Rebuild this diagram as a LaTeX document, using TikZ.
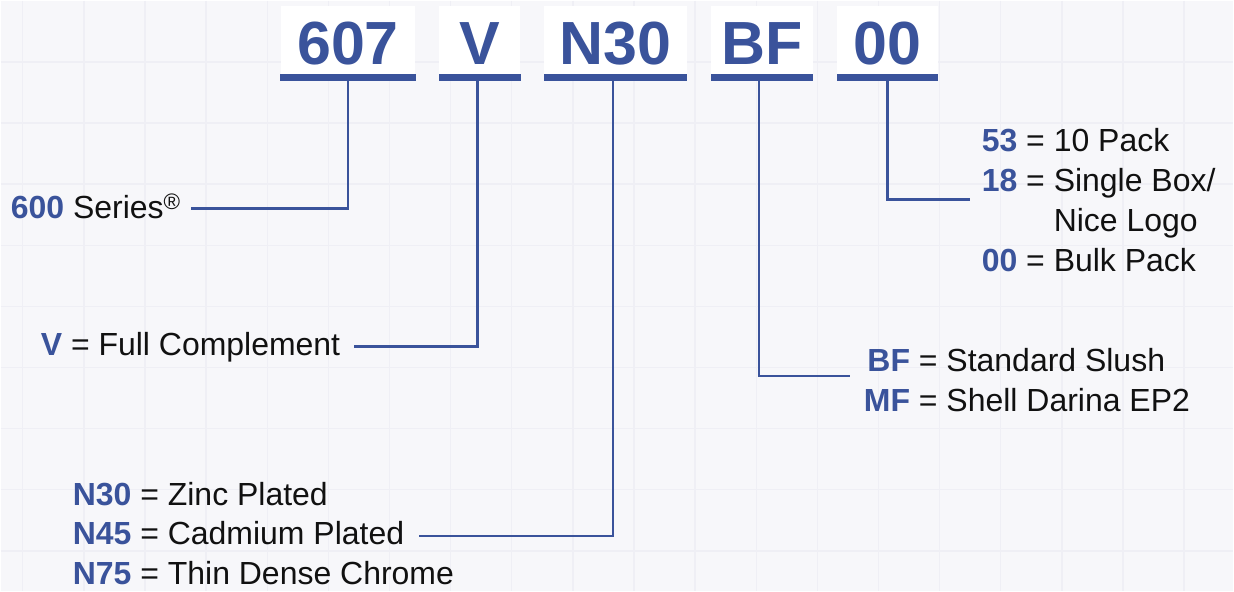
\documentclass[tikz,border=0pt]{standalone}
\usepackage{fontspec}
\setmainfont{Liberation Sans}
\definecolor{brand}{HTML}{3A539B}
\definecolor{bg}{HTML}{F7F7FA}
\definecolor{gridc}{HTML}{EFEFF5}
\definecolor{ink}{HTML}{111111}
\newcommand{\cd}[1]{\textcolor{brand}{\bfseries #1}}
\begin{document}
\begin{tikzpicture}[x=1pt,y=-1pt,
  hdr/.style={fill=white, anchor=north west, minimum height=75pt, inner sep=0pt,
    font=\fontsize{61}{61}\selectfont\bfseries, text=brand, text depth=0pt},
  bar/.style={fill=brand},
  conn/.style={draw=brand, line width=2.4pt},
  lbl/.style={font=\fontsize{32}{40}\selectfont, text=ink, inner sep=0pt, anchor=base west}
]
% background and grid
\fill[bg] (0,0) rectangle (1234,591);
\foreach \i in {0,...,19} \draw[gridc, line width=1.4pt] ({22+61.2*\i},0) -- ({22+61.2*\i},591);
\foreach \j in {1,...,9} \draw[gridc, line width=1.4pt] (0,{61.2*\j}) -- (1234,{61.2*\j});
\useasboundingbox (0,0) rectangle (1234,591);

% header code boxes
\node[hdr, minimum width=135pt] (h607) at (280,5) {607};
\node[hdr, minimum width=81pt]  (hV)   at (439,5) {V};
\node[hdr, minimum width=143pt] (hN)   at (544,5) {N30};
\node[hdr, minimum width=102pt] (hBF)  at (711,5) {BF};
\node[hdr, minimum width=101pt] (h00)  at (837,5) {00};
\foreach \n in {h607,hV,hN,hBF,h00}
  \fill[bar] (\n.south west) rectangle ([yshift=7pt]\n.south east);

% labels
\node[lbl] (series) at (10,218) {\cd{600} Series\textsuperscript{®}};
\node[lbl] (vlab) at (40,355) {\cd{V} = Full Complement};
\node[lbl] (n30) at (72,505) {\cd{N30} = Zinc Plated};
\node[lbl] (n45) at (72,544) {\cd{N45} = Cadmium Plated};
\node[lbl] (n75) at (72,584) {\cd{N75} = Thin Dense Chrome};
\node[lbl] (bfblk) at (864,371) {\begin{tabular}[t]{@{}r@{ = }l@{}}
  \cd{BF} & Standard Slush\\
  \cd{MF} & Shell Darina EP2
\end{tabular}};
\node[lbl] (ooblk) at (982,151) {\begin{tabular}[t]{@{}r@{ }l@{}}
  \cd{53} & = 10 Pack\\
  \cd{18} & = Single Box/\\
          & \phantom{= }Nice Logo\\
  \cd{00} & = Bulk Pack
\end{tabular}};

% connectors
\draw[conn] (h607.south) |- ([xshift=10pt,yshift=10pt]series.base east);
\draw[conn] ([xshift=-2.5pt]hV.south) |- ([xshift=14pt,yshift=9pt]vlab.base east);
\draw[conn] ([xshift=-3pt]hN.south) |- ([xshift=15pt,yshift=8pt]n45.base east);
\draw[conn] ([xshift=-3pt]hBF.south) |- ([xshift=-14pt,yshift=-5pt]bfblk.base west);
\draw[conn] (h00.south) |- ([xshift=-12pt,yshift=-48pt]ooblk.base west);
\end{tikzpicture}
\end{document}
